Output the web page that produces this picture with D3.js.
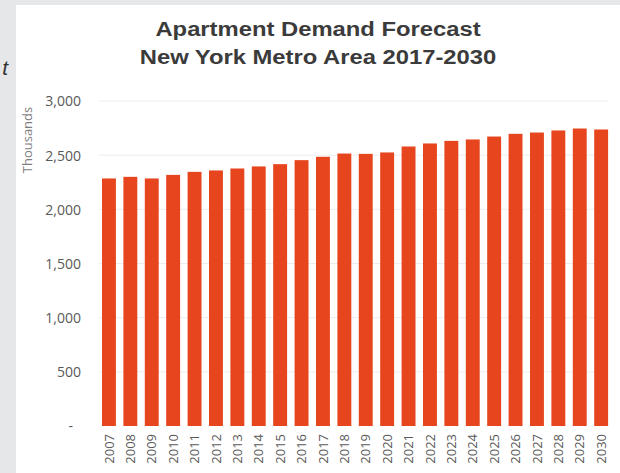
<!DOCTYPE html>
<html><head><meta charset="utf-8">
<script src="https://cdn.jsdelivr.net/npm/d3@7"></script>
<style>html,body{margin:0;padding:0;background:#e6e7e9;}svg{display:block;}</style>
</head><body>
<script>
const years = ["2007","2008","2009","2010","2011","2012","2013","2014","2015","2016","2017","2018","2019","2020","2021","2022","2023","2024","2025","2026","2027","2028","2029","2030"];
const demand = [2285,2300,2285,2318,2346,2359,2377,2396,2417,2454,2485,2515,2512,2525,2580,2608,2632,2645,2672,2697,2709,2728,2746,2737];
const yTicks = [0,500,1000,1500,2000,2500,3000];
const titleLines = ["Apartment Demand Forecast","New York Metro Area 2017-2030"];
const yAxisTitle = "Thousands";

const W = 620, H = 473;
const svg = d3.select("body").append("svg").attr("width", W).attr("height", H);
svg.append("rect").attr("width", W).attr("height", H).attr("fill", "#e6e7e9");
svg.append("rect").attr("x", 16).attr("y", 5).attr("width", W - 16).attr("height", H - 5).attr("fill", "#ffffff");
// cut-off text on left strip
svg.append("text").attr("x", 8).attr("y", 75).attr("text-anchor", "end")
  .attr("font-family", "Liberation Sans, Arial, sans-serif").attr("font-style", "italic")
  .attr("font-size", 21).attr("fill", "#333").text("t");

const x = d3.scaleBand().domain(years).range([98.25, 611.85]).paddingInner(0.35).paddingOuter(0.175);
const y = d3.scaleLinear().domain([0, 3000]).range([426, 101]);

// gridlines
svg.append("g").selectAll("line").data(yTicks.filter(d => d > 0)).join("line")
  .attr("x1", 99).attr("x2", 608).attr("y1", d => y(d)).attr("y2", d => y(d))
  .attr("stroke", "#ededed").attr("stroke-width", 1);

// y axis
const yAxis = svg.append("g").attr("transform", "translate(81,0)")
  .call(d3.axisLeft(y).tickValues(yTicks).tickSize(0).tickPadding(0)
    .tickFormat(d => d === 0 ? "-" : d3.format(",")(d)));
yAxis.select(".domain").remove();
yAxis.selectAll("text").attr("font-family", "Open Sans, sans-serif").attr("font-size", 14)
  .attr("fill", "#595959").attr("dy", "0.35em")
  .attr("dx", d => d === 0 ? -8 : 0);

// bars
svg.append("g").selectAll("rect").data(years).join("rect")
  .attr("x", d => x(d)).attr("width", x.bandwidth())
  .attr("y", (d, i) => y(demand[i])).attr("height", (d, i) => y(0) - y(demand[i]))
  .attr("fill", "#e6451d");

// x axis
const xAxis = svg.append("g").attr("transform", "translate(0,434)")
  .call(d3.axisBottom(x).tickSize(0).tickPadding(0));
xAxis.select(".domain").remove();
xAxis.selectAll("text").attr("font-family", "Open Sans, sans-serif").attr("font-size", 13)
  .attr("fill", "#595959").attr("text-anchor", "end")
  .attr("transform", "rotate(-90)").attr("x", 0).attr("y", 0).attr("dy", "0.35em");

// y title
svg.append("text").attr("transform", "translate(27,140) rotate(-90)")
  .attr("text-anchor", "middle").attr("dy", "0.35em")
  .attr("font-family", "Open Sans, sans-serif").attr("font-size", 13).attr("fill", "#7f7f7f")
  .text(yAxisTitle);

// title (glyphs in the reference are horizontally wide)
svg.append("g").selectAll("text").data(titleLines).join("text")
  .attr("transform", (d, i) => `translate(318,${36 + i * 27.5}) scale(1.19,1)`)
  .attr("text-anchor", "middle")
  .attr("font-family", "Liberation Sans, Arial, sans-serif").attr("font-weight", "bold")
  .attr("font-size", 20).attr("fill", "#3b3b3b").text(d => d);
</script>
</body></html>
